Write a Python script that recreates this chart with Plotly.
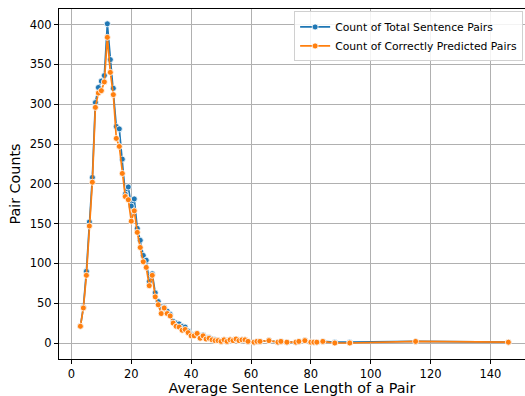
import plotly.graph_objects as go

lengths = [3, 4, 5, 6, 7, 8, 9, 10, 11, 12, 13, 14, 15, 16, 17, 18, 19, 20, 21, 22,
           23, 24, 25, 26, 27, 28, 29, 30, 31, 32, 33, 34, 35, 36, 37, 38, 39, 40, 41, 42,
           43, 44, 45, 46, 47, 48, 49, 50, 51, 52, 53, 54, 55, 56, 57, 58, 59, 61, 62, 63,
           66, 69, 70, 72, 75, 76, 78, 80, 81, 82, 84, 88, 93, 115, 146]
total_pairs = [21, 45, 90, 152, 208, 302, 321, 329, 336, 401, 356, 320, 272, 269, 231, 187, 196, 172, 181, 144,
               129, 110, 104, 77, 87, 63, 52, 46, 45, 40, 36, 27, 25, 24, 21, 20, 15, 11, 10, 12,
               9, 10, 7, 7, 5, 4, 3, 2, 4, 2, 4, 3, 5, 3, 4, 4, 2, 1, 2, 2,
               3, 1, 2, 1, 1, 2, 3, 1, 1, 1, 2, 1, 1, 2, 1]
correct_pairs = [21, 44, 85, 147, 202, 296, 314, 317, 328, 384, 340, 312, 257, 247, 213, 184, 180, 153, 166, 139,
                 120, 102, 95, 72, 85, 58, 48, 37, 44, 37, 34, 25, 21, 20, 16, 17, 13, 9, 9, 12,
                 6, 9, 5, 6, 4, 3, 3, 2, 4, 2, 4, 3, 5, 3, 4, 4, 2, 1, 2, 2,
                 3, 1, 2, 1, 1, 2, 3, 1, 1, 1, 2, 0, 0, 2, 1]
x_ticks = [0, 20, 40, 60, 80, 100, 120, 140]
y_ticks = [0, 50, 100, 150, 200, 250, 300, 350, 400]

BLUE = "#1f77b4"
ORANGE = "#ff7f0e"

fig = go.Figure()
for name, vals, col in [("Count of Total Sentence Pairs", total_pairs, BLUE),
                        ("Count of Correctly Predicted Pairs", correct_pairs, ORANGE)]:
    fig.add_trace(go.Scatter(
        x=lengths, y=vals, name=name, mode="lines+markers",
        line=dict(color=col, width=1.7),
        marker=dict(color=col, size=6, line=dict(color="white", width=0.8)),
    ))

fig.update_layout(
    width=525, height=396,
    margin=dict(l=59, r=0, t=9, b=37),
    paper_bgcolor="white", plot_bgcolor="white",
    font=dict(family="DejaVu Sans", size=11.5, color="black"),
    showlegend=True,
    legend=dict(x=0.996, y=0.993, xanchor="right", yanchor="top",
                bgcolor="rgba(255,255,255,0.85)", bordercolor="#d0d0d0", borderwidth=1,
                font=dict(size=10.8), tracegroupgap=0, itemwidth=30),
)
fig.update_xaxes(
    range=[-4.15, 151.55], tickvals=x_ticks, ticks="outside", ticklen=4, tickcolor="black",
    showline=True, linecolor="black", linewidth=1, mirror=True,
    showgrid=True, gridcolor="#b0b0b0", gridwidth=0.8, zeroline=False,
    title=dict(text="Average Sentence Length of a Pair", font=dict(size=14.3), standoff=5),
)
fig.update_yaxes(
    range=[-20.1, 419.6], tickvals=y_ticks, ticks="outside", ticklen=4, tickcolor="black",
    showline=True, linecolor="black", linewidth=1, mirror=False,
    showgrid=True, gridcolor="#b0b0b0", gridwidth=0.8, zeroline=False,
    title=dict(text="Pair Counts", font=dict(size=14.3), standoff=5),
)

fig.write_html("out.html")
